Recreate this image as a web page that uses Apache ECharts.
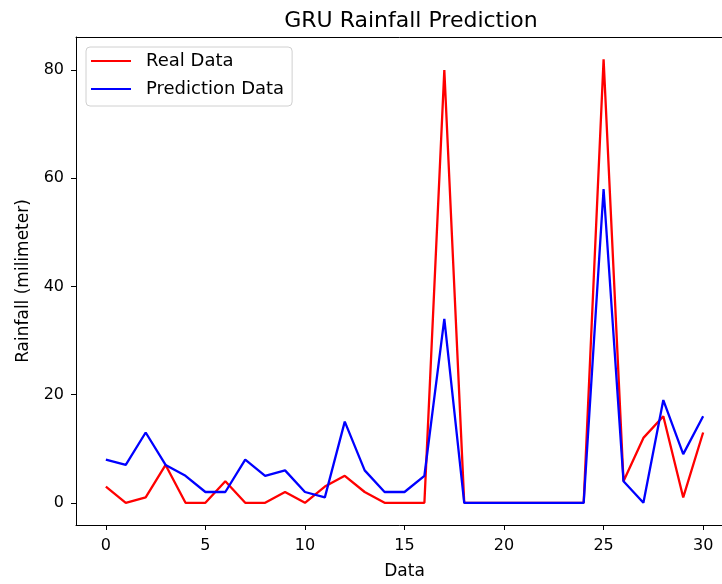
<!DOCTYPE html>
<html>
<head>
<meta charset="utf-8">
<script src="https://cdn.jsdelivr.net/npm/echarts@6/dist/echarts.min.js"></script>
<style>html,body{margin:0;padding:0;background:#fff;}#c{width:722px;height:584px;}</style>
</head>
<body>
<div id="c"></div>
<script>
const indices = [0,1,2,3,4,5,6,7,8,9,10,11,12,13,14,15,16,17,18,19,20,21,22,23,24,25,26,27,28,29,30];
const realData = [3,0,1,7,0,0,4,0,0,2,0,3,5,2,0,0,0,80,0,0,0,0,0,0,0,82,4,12,16,1,13];
const predictionData = [8,7,13,7,5,2,2,8,5,6,2,1,15,6,2,2,5,34,0,0,0,0,0,0,0,58,4,0,19,9,16];
const xTicks = [0,5,10,15,20,25,30];
const yTicks = [0,20,40,60,80];

const font = 'DejaVu Sans';
const chart = echarts.init(document.getElementById('c'), null, {renderer:'canvas'});
chart.setOption({
  animation: false,
  backgroundColor: '#fff',
  title: {
    text: 'GRU Rainfall Prediction',
    left: 406, top: 5, textAlign: 'center',
    textStyle: {fontFamily: font, fontSize: 22, fontWeight: 'normal', color: '#000'}
  },
  legend: {
    orient: 'vertical', left: 86, top: 47,
    itemWidth: 40, itemHeight: 2, itemGap: 10,
    padding: [5, 8, 8, 5],
    borderColor: '#d0d0d0', borderWidth: 1, borderRadius: 4,
    backgroundColor: 'rgba(255,255,255,0.8)',
    textStyle: {fontFamily: font, fontSize: 18, color: '#000', padding: [0,0,0,10]},
    icon: 'rect',
    data: ['Real Data', 'Prediction Data']
  },
  grid: {left: 76, top: 37, right: -11, bottom: 59, outerBoundsMode: 'none', containLabel: false, show: false},
  xAxis: [{
    type: 'value', min: -1.5, max: 31.5,
    name: 'Data', nameLocation: 'middle', nameGap: 38,
    nameTextStyle: {fontFamily: font, fontSize: 17, color: '#000'},
    axisLine: {show: true, onZero: false, lineStyle: {color: '#000', width: 1}},
    axisTick: {show: true, length: 5, customValues: xTicks, lineStyle: {color: '#000'}},
    axisLabel: {customValues: xTicks, fontFamily: font, fontSize: 16, color: '#000', margin: 13},
    splitLine: {show: false}
  }, {
    type: 'value', position: 'top', min: -1.5, max: 31.5,
    axisLine: {show: true, onZero: false, lineStyle: {color: '#000', width: 1}},
    axisTick: {show: false}, axisLabel: {show: false}, splitLine: {show: false}
  }],
  yAxis: {
    type: 'value', min: -4.1, max: 86.1,
    name: 'Rainfall (milimeter)', nameLocation: 'middle', nameGap: 44,
    nameTextStyle: {fontFamily: font, fontSize: 17, color: '#000'},
    axisLine: {show: true, onZero: false, lineStyle: {color: '#000', width: 1}},
    axisTick: {show: true, length: 5, customValues: yTicks, lineStyle: {color: '#000'}},
    axisLabel: {customValues: yTicks, fontFamily: font, fontSize: 16, color: '#000', margin: 12},
    splitLine: {show: false}
  },
  series: [
    {name: 'Real Data', type: 'line', data: indices.map((x,i)=>[x, realData[i]]),
     showSymbol: false, lineStyle: {color: '#ff0000', width: 2.3}, itemStyle: {color: '#ff0000'}, z: 2},
    {name: 'Prediction Data', type: 'line', data: indices.map((x,i)=>[x, predictionData[i]]),
     showSymbol: false, lineStyle: {color: '#0000ff', width: 2.3}, itemStyle: {color: '#0000ff'}, z: 3}
  ]
});
</script>
</body>
</html>
